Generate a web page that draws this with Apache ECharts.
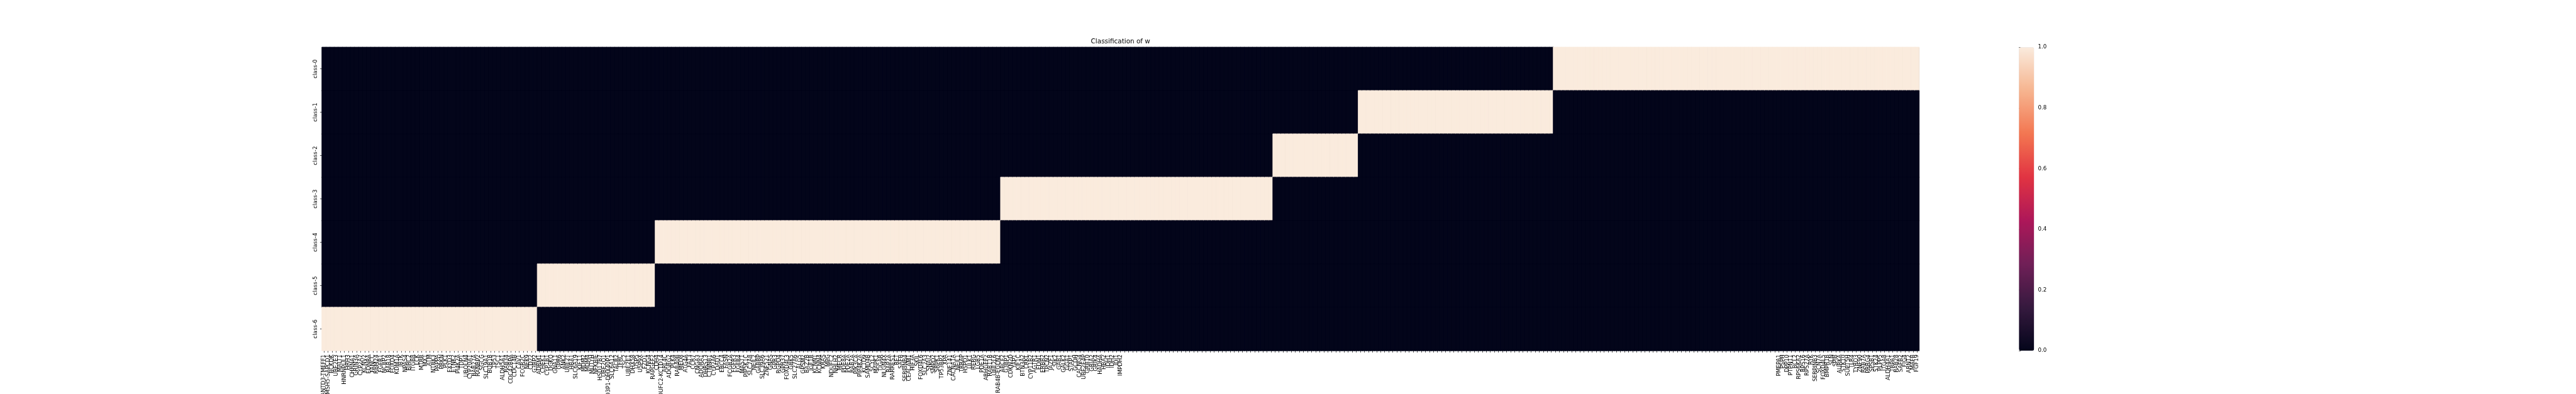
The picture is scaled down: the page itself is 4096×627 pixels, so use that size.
<!DOCTYPE html>
<html><head><meta charset="utf-8">
<script src="https://cdn.jsdelivr.net/npm/echarts@6/dist/echarts.min.js"></script>
<style>html,body{margin:0;padding:0;background:#fff;overflow:hidden}#c{width:4096px;height:627px}</style>
</head><body><div id="c"></div>
<script>
// ---- data ----
const genes = [
'MSANTD3-TMEFF1','MSH5-SAPCD1','BCKDK','UBE2E3','MALT1','HNRNPUL1','HRH3','CHRNA1','GRIN3A','CYP2A7',
'KCNV2','EDNRA','FANCC','RBM24','FGFR1','NCBP2','RAB18','FOXD4','KDM1A','IBTK',
'NPAS4','BIRC2','ITGB8','LCK','MTRR','MX1','ATM','NTRK3','PAPPA','PRKN',
'PLK1','FXYD3','ETNK2','PI4K2A','TDP1','UBQLN4','CYP20A1','RAB27A','RANBP2','SGCG',
'SLC19A1','BUB1B','TP53','TSC1','ALDH5A1','RAB34','CDC42BPA','CDC14B','CAV1','FCGR2C',
'NEK9','CD22','G3BP2','ADRM1','CHEK1','CYP1B1','DGKQ','GNA11','GPR6','ANK2',
'UBE2T','HBA1','SLC6A19','KIF11','MDM2','MDM4','MUTYH','NFKBIE','HSD17B7','UBE2Q1',
'TBC1D3P1-DHX40P1','SLC6A12','TACR2','TFRC','TSC2','UBE2E1','DHX58','USP5','USP9X','FZD1',
'KCNG4','RAPGEF2','CDH4','NDUFC2-KCTD14','ARL4C','ADGRG2','PLK4','RAB40B','MED8','ATG4A',
'FAT3','CCR7','CNGA3','ADORA1','DHRS13','CTNNB1','CYP2A6','DAD1','ERCC4','FASN',
'FCGR2A','FGFR3','FGFR4','MAST1','PIP5K1C','SLC7A8','NEIL2','GABRP','SLC39A6','ZNF521',
'GNAS','GPR3','RGPD4','GPR37','FOXD4L3','GRK5','SLC27A6','ALG5','GPSM2','BAZ2B',
'IGF1R','KCNN1','KCNN4','KRAS','MPG','NDUFC2','NHLH2','MECR','PDE8A','PDE2A',
'RAB2A','PIK3CA','PIP4K2A','KCTD9','SAMD4B','SCYL2','MAPK1','TIGAR','NLGN4X','RAP2A',
'RARRES1','RET','SAFB','SERPINB4','CEACAM1','HIF3A','SKIL','FOXD4L6','SLC2A3','SNAI2',
'SMPD2','SRPK1','TP53BP2','XPA','ZNF141','CACNA1A','NEIL1','TRRAP','HSPD1','ULK1',
'RERG','LGR5','PDE1A','ARHGEF2','RAB11B','UBE2L6','RAB4B-EGLN2','ABCF2','G3BP1','CDKN2D',
'YAP1','KIF1C','BTN3A2','CRKL','CYP11B2','AGTR1','EDN1','ERBB2','TPCN2','JAZF1',
'SIK2','GAB1','GALK2','GGA1','STAP1','GCDH','CACNG4','UBE2E4P','GRB10','GRIA2',
'GRIK4','HADHA','HBA2','IDH1','IDH2','IDI1','IMPDH2',
'','','','','','','','','','','','','','','','','','','','',
'','','','','','','','','','','','','','','','','','','','',
'','','','','','','','','','','','','','','','','','','','',
'','','','','','','','','','','','','','','','','','','','',
'','','','','','','','','','','','','','','','','','','','',
'','','','','','','','','','','','','','','','','','','','',
'','','','','','','','','','','','','','','','','','','','',
'','','','','','','','','','','','','','','','','','','','',
'',
'PMEPA1','PSPH','DPP10','PTPN11','BCL2','RPS6KA2','RPS16','RPS27A','RYK','SERPINB3',
'SCN7A','FOXD4L5','BMPR1B','SLN','SPIB','AURKA','STK10','SUPT5H','TLR4','TYRO3',
'ZNF90','RAB7A','PRRG4','SPSB1','STK24','PLPP5','ITGA8','ALDH4A1','TRPA1','RAB28',
'SAFB2','FIG4','ARNT2','MAFB','FGF19'
];
const classes = ['class-0','class-1','class-2','class-3','class-4','class-5','class-6'];
// classes of the consecutive gene blocks, left to right, and the number of genes in each block
const blockClass = [6, 5, 4, 3, 2, 1, 0];
const blockSize  = [53, 29, 85, 67, 21, 48, 90];
const cbarTicks = [0.0, 0.2, 0.4, 0.6, 0.8, 1.0];

// ---- styles ----
const rocket = ['#03051A','#35193E','#701F57','#AD1759','#E13342','#F37651','#F6B48F','#FAEBDD'];
const S = 4096 / 6533;
const FONT = 'DejaVu Sans';
const fs = 13.89 * S;          // 10pt tick labels
const tickLen = 4.86 * S;      // 3.5pt
const pad = 4.86 * S;
const axL = 816.6 * S, axR = 4867.0 * S, axT = 120 * S, axB = 890 * S;
const cbL = 5120.2 * S, cbW = 38.5 * S;

// expand blocks into one class per gene
const geneClass = [];
blockClass.forEach((c, b) => { for (let k = 0; k < blockSize[b]; k++) geneClass.push(c); });
const cells = [];
genes.forEach((g, i) => classes.forEach((cl, j) => {
  const v = geneClass[i] === j ? 1 : 0;
  cells.push({value: [i, j, v], itemStyle: {borderWidth: 0.8, borderColor: v ? rocket[rocket.length - 1] : rocket[0]}});
}));

const chart = echarts.init(document.getElementById('c'), null, {renderer: 'canvas'});
chart.setOption({
  animation: false,
  backgroundColor: '#ffffff',
  title: {
    text: 'Classification of w',
    left: (axL + axR) / 2, textAlign: 'center', top: 61, padding: 0,
    textStyle: {fontFamily: FONT, fontWeight: 'normal', fontSize: 16.67 * S, color: '#000'}
  },
  grid: [
    {left: axL, top: axT, width: axR - axL, height: axB - axT, containLabel: false, outerBoundsMode: 'none',
     show: true, backgroundColor: rocket[0], borderWidth: 0},
    {left: cbL, top: axT, width: cbW, height: axB - axT, containLabel: false, outerBoundsMode: 'none'}
  ],
  xAxis: [
    {type: 'category', data: genes, gridIndex: 0,
     axisLine: {show: false},
     axisTick: {show: true, alignWithLabel: true, interval: 0, length: tickLen, lineStyle: {color: '#000', width: 0.7}},
     axisLabel: {interval: 0, rotate: 90, margin: tickLen + pad, fontFamily: FONT, fontSize: fs, color: '#000', hideOverlap: false},
     splitLine: {show: false}},
    {type: 'value', gridIndex: 1, show: false, min: 0, max: 1}
  ],
  yAxis: [
    {type: 'category', data: classes, inverse: true, gridIndex: 0,
     axisLine: {show: false},
     axisTick: {show: true, alignWithLabel: true, length: tickLen, lineStyle: {color: '#000', width: 0.7}},
     axisLabel: {rotate: 90, margin: tickLen + pad, fontFamily: FONT, fontSize: fs, color: '#000'},
     splitLine: {show: false}},
    {type: 'value', gridIndex: 1, position: 'right', min: 0, max: 1, interval: 0.2,
     axisLine: {show: false},
     axisTick: {show: true, length: tickLen, lineStyle: {color: '#000', width: 0.7}},
     axisLabel: {margin: tickLen + pad, fontFamily: FONT, fontSize: fs, color: '#000',
       formatter: v => (cbarTicks.find(t => Math.abs(t - v) < 1e-9) ?? v).toFixed(1)},
     splitLine: {show: false}}
  ],
  visualMap: {
    type: 'continuous', min: 0, max: 1, calculable: false, seriesIndex: 0,
    orient: 'vertical', left: cbL, top: axT, itemWidth: cbW, itemHeight: axB - axT,
    padding: 0, text: null, hoverLink: false,
    inRange: {color: rocket}
  },
  series: [{
    type: 'heatmap', xAxisIndex: 0, yAxisIndex: 0, data: cells, progressive: 0,
    emphasis: {disabled: true}
  }]
});
</script></body></html>
